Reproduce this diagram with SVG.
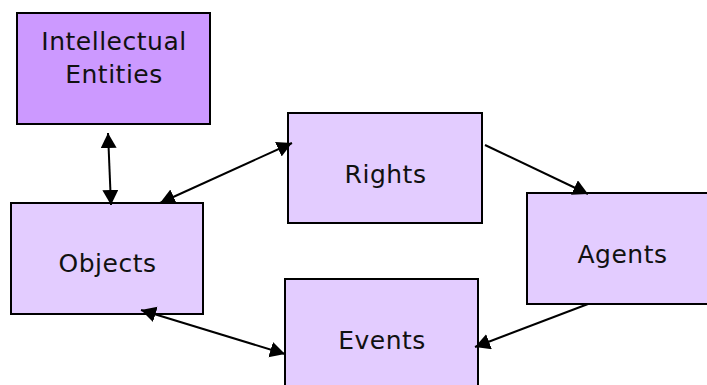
<svg xmlns="http://www.w3.org/2000/svg" width="707" height="385" viewBox="0 0 707 385">
<defs>
<style>
.box{stroke:#000;stroke-width:2}
.dark{fill:#CC99FF}
.light{fill:#E3CCFF}
.lbl{font-family:"DejaVu Sans","Verdana",sans-serif;font-size:25px;letter-spacing:0.5px;fill:#111;text-anchor:middle}
.con{stroke:#000;stroke-width:2;fill:none}
</style>
<marker id="ah" markerUnits="userSpaceOnUse" markerWidth="17" markerHeight="17" refX="15" refY="8" orient="auto-start-reverse">
<path d="M0,0 L15,8 L0,16 Z" fill="#000"/>
</marker>
</defs>
<g id="intellectual-entities">
<rect class="box dark" x="17" y="13" width="193" height="111"/>
<text class="lbl" x="114" y="50">Intellectual</text>
<text class="lbl" x="114" y="83">Entities</text>
</g>
<g id="objects">
<rect class="box light" x="11" y="203" width="192" height="111"/>
<text class="lbl" x="107.5" y="272">Objects</text>
</g>
<g id="rights">
<rect class="box light" x="288" y="113" width="194" height="110"/>
<text class="lbl" x="385.5" y="183">Rights</text>
</g>
<g id="agents">
<rect class="box light" x="527" y="193" width="191" height="111"/>
<text class="lbl" x="622.5" y="263">Agents</text>
</g>
<g id="events">
<rect class="box light" x="285" y="279" width="193" height="112"/>
<text class="lbl" x="382" y="349">Events</text>
</g>
<g id="connectors">
<line class="con" x1="108" y1="133" x2="111" y2="205" marker-start="url(#ah)" marker-end="url(#ah)"/>
<line class="con" x1="160" y1="203" x2="292" y2="143" marker-start="url(#ah)" marker-end="url(#ah)"/>
<line class="con" x1="485" y1="145" x2="588" y2="194" marker-end="url(#ah)"/>
<line class="con" x1="588" y1="304" x2="475" y2="347" marker-end="url(#ah)"/>
<line class="con" x1="141" y1="310" x2="285" y2="354" marker-start="url(#ah)" marker-end="url(#ah)"/>
</g>
</svg>
